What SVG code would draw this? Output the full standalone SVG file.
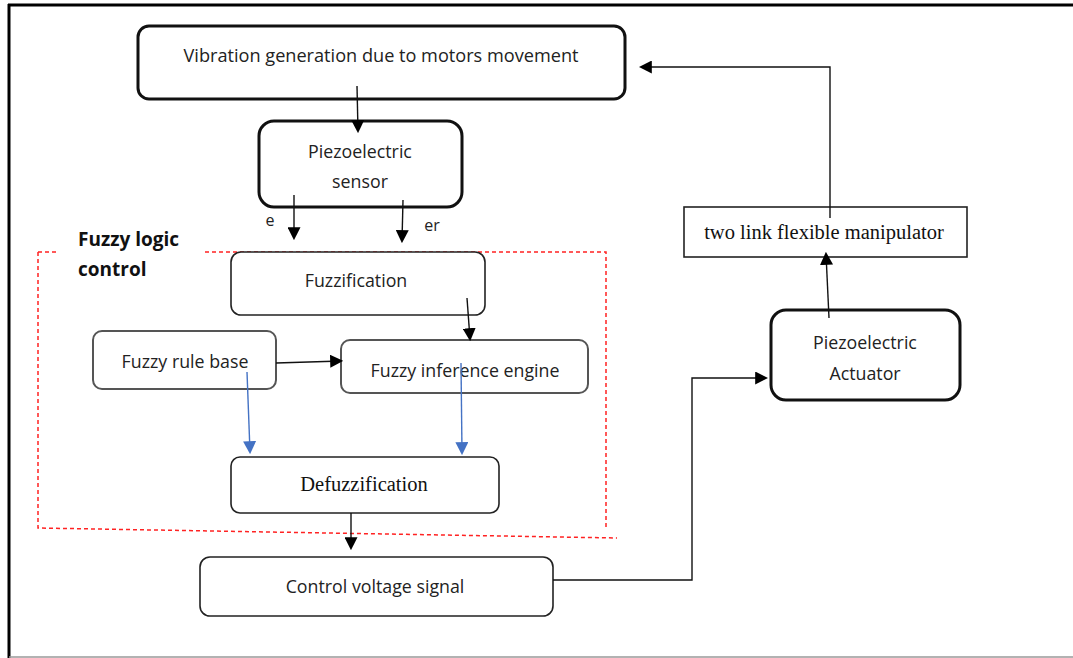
<svg xmlns="http://www.w3.org/2000/svg" width="1073" height="658" viewBox="0 0 1073 658">
<defs>
<style>
.t{font-family:"Open Sans","Noto Sans",sans-serif;font-size:17.8px;fill:#222;text-anchor:middle}
.s{font-family:"Liberation Serif","Times New Roman",serif;font-size:20.5px;fill:#111;text-anchor:middle}
.b{font-family:"Open Sans","Noto Sans",sans-serif;font-size:19px;font-weight:bold;fill:#111}
.thick{fill:#fff;stroke:#111;stroke-width:3}
.thin{fill:#fff;stroke:#222;stroke-width:1.6}
.gray{fill:#fff;stroke:#555;stroke-width:2}
.c{fill:none;stroke:#111;stroke-width:1.4}
.cb{fill:none;stroke:#4472C4;stroke-width:1.4}
</style>
<marker id="ah" markerWidth="13" markerHeight="13" refX="10" refY="6" orient="auto" markerUnits="userSpaceOnUse" viewBox="0 0 12 12"><path d="M0,0 L12,6 L0,12 z" fill="#000"/></marker>
<marker id="ab" markerWidth="13" markerHeight="13" refX="10" refY="6" orient="auto" markerUnits="userSpaceOnUse" viewBox="0 0 12 12"><path d="M0,0 L12,6 L0,12 z" fill="#4472C4"/></marker>
</defs>
<rect width="1073" height="658" fill="#fff"/>
<line x1="8" y1="5" x2="1073" y2="5" stroke="#000" stroke-width="3"/>
<line x1="9" y1="4" x2="9" y2="658" stroke="#000" stroke-width="3"/>
<line x1="9" y1="657" x2="1073" y2="657" stroke="#999" stroke-width="1.5"/>

<g id="fuzzy-region">
<path d="M205,252 L606,252 L606,530 M38,252 L38,528 L617,538 M38,252 L58,252" fill="none" stroke="#f22" stroke-width="1.5" stroke-dasharray="4,3"/>
<text class="b" x="78" y="246">Fuzzy logic</text>
<text class="b" x="78" y="276">control</text>
</g>

<g id="vibration">
<rect class="thick" x="138" y="26" width="487" height="73" rx="11"/>
<text class="t" x="381" y="62" textLength="395" lengthAdjust="spacingAndGlyphs">Vibration generation due to motors movement</text>
</g>
<g id="sensor">
<rect class="thick" x="259" y="121" width="203" height="86" rx="15"/>
<text class="t" x="360" y="158" fill="#444">Piezoelectric</text>
<text class="t" x="360" y="188">sensor</text>
</g>
<g id="fuzzification">
<rect class="thin" x="231" y="252" width="254" height="63" rx="10"/>
<text class="t" x="356" y="287">Fuzzification</text>
</g>
<g id="rulebase">
<rect class="gray" x="93" y="331" width="183" height="58" rx="9"/>
<text class="t" x="185" y="368">Fuzzy rule base</text>
</g>
<g id="inference">
<rect class="gray" x="341" y="340" width="247" height="53" rx="9"/>
<text class="t" x="465" y="377">Fuzzy inference engine</text>
</g>
<g id="defuzzification">
<rect class="thin" x="231" y="457" width="268" height="56" rx="9"/>
<text class="s" x="364" y="491">Defuzzification</text>
</g>
<g id="control">
<rect class="thin" x="200" y="557" width="353" height="59" rx="10"/>
<text class="t" x="375" y="593">Control voltage signal</text>
</g>
<g id="actuator">
<rect class="thick" x="771" y="310" width="189" height="90" rx="15"/>
<text class="t" x="865" y="349" fill="#333">Piezoelectric</text>
<text class="t" x="865" y="380" fill="#333">Actuator</text>
</g>
<g id="manipulator">
<rect class="thin" x="684" y="207" width="283" height="50"/>
<text class="s" x="824" y="239">two link flexible manipulator</text>
</g>

<g id="connectors">
<line class="c" x1="357" y1="86" x2="358" y2="131" marker-end="url(#ah)"/>
<line class="c" x1="294" y1="195" x2="294" y2="238" marker-end="url(#ah)"/>
<line class="c" x1="403" y1="200" x2="402" y2="241" marker-end="url(#ah)"/>
<text class="t" x="270" y="226" style="font-size:16px">e</text>
<text class="t" x="432" y="231" style="font-size:16px">er</text>
<line class="c" x1="467" y1="298" x2="470" y2="339" marker-end="url(#ah)"/>
<line class="c" x1="276" y1="363" x2="341" y2="361" marker-end="url(#ah)"/>
<line class="cb" x1="247" y1="372" x2="250" y2="452" marker-end="url(#ab)"/>
<line class="cb" x1="461" y1="363" x2="462" y2="453" marker-end="url(#ab)"/>
<line class="c" x1="351" y1="513" x2="351" y2="548" marker-end="url(#ah)"/>
<polyline class="c" points="553,580 692,580 692,378 766,378" marker-end="url(#ah)"/>
<line class="c" x1="829" y1="318" x2="826" y2="254" marker-end="url(#ah)"/>
<polyline class="c" points="830,218 830,67 641,67" marker-end="url(#ah)"/>
</g>
</svg>
